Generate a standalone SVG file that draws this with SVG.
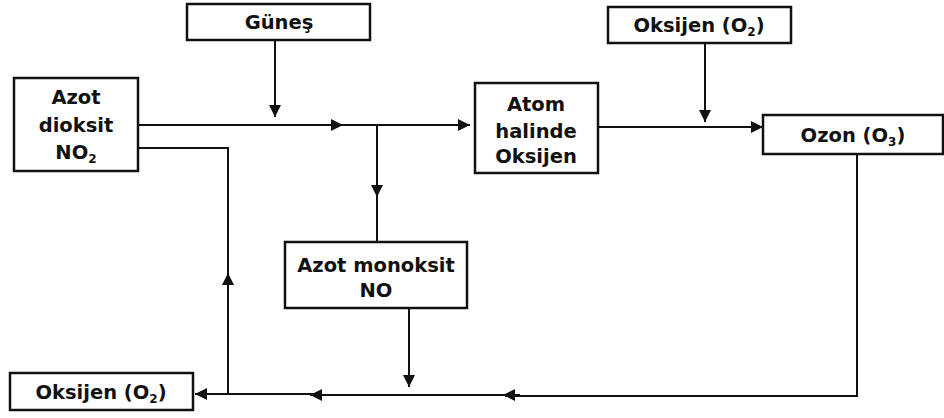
<svg xmlns="http://www.w3.org/2000/svg" width="944" height="418" viewBox="0 0 944 418">
<style>
.box{fill:#fff;stroke:#111;stroke-width:2.5}
.t{font-family:"DejaVu Sans",sans-serif;font-weight:bold;font-size:19.5px;fill:#111;text-anchor:middle}
.sub{font-size:12px}
.ln{fill:none;stroke:#111;stroke-width:2}
</style>
<defs>
<marker id="ah" viewBox="0 0 10 10" refX="10" refY="5" markerWidth="12" markerHeight="12" markerUnits="userSpaceOnUse" orient="auto">
<path d="M0,0 L10,5 L0,10 z" fill="#111"/>
</marker>
</defs>
<rect width="944" height="418" fill="#fff"/>
<g id="connectors">
<path class="ln" d="M275,40 V117" marker-end="url(#ah)"/>
<path class="ln" d="M138,125 H343" marker-end="url(#ah)"/>
<path class="ln" d="M340,125 H470" marker-end="url(#ah)"/>
<path class="ln" d="M377,125 V197" marker-end="url(#ah)"/>
<path class="ln" d="M377,195 V242"/>
<path class="ln" d="M705,43 V122" marker-end="url(#ah)"/>
<path class="ln" d="M598,127 H763" marker-end="url(#ah)"/>
<path class="ln" d="M857,154 V396 H505"/>
<path class="ln" d="M520,395 H503" marker-end="url(#ah)"/>
<path class="ln" d="M505,395 H310" marker-end="url(#ah)"/>
<path class="ln" d="M315,394 H195" marker-end="url(#ah)"/>
<path class="ln" d="M409,308 V387" marker-end="url(#ah)"/>
<path class="ln" d="M228,393 V273" marker-end="url(#ah)"/>
<path class="ln" d="M228,280 V148 H138"/>
</g>
<g id="gunes">
<rect class="box" x="187" y="4" width="183" height="36"/>
<text class="t" x="279" y="29">Güneş</text>
</g>
<g id="azot-dioksit">
<rect class="box" x="14" y="78" width="124" height="93"/>
<text class="t" x="76" y="104">Azot</text>
<text class="t" x="76" y="132">dioksit</text>
<text class="t" x="76" y="159">NO<tspan class="sub" dy="4">2</tspan></text>
</g>
<g id="atom-oksijen">
<rect class="box" x="475" y="83" width="123" height="90"/>
<text class="t" x="536" y="111">Atom</text>
<text class="t" x="536" y="138">halinde</text>
<text class="t" x="536" y="163">Oksijen</text>
</g>
<g id="oksijen-top">
<rect class="box" x="608" y="7" width="183" height="36"/>
<text class="t" x="699" y="32">Oksijen (O<tspan class="sub" dy="4">2</tspan><tspan dy="-4">)</tspan></text>
</g>
<g id="ozon">
<rect class="box" x="763" y="115" width="180" height="39"/>
<text class="t" x="853" y="142">Ozon (O<tspan class="sub" dy="4">3</tspan><tspan dy="-4">)</tspan></text>
</g>
<g id="azot-monoksit">
<rect class="box" x="285" y="242" width="182" height="66"/>
<text class="t" x="376" y="272">Azot monoksit</text>
<text class="t" x="376" y="297">NO</text>
</g>
<g id="oksijen-bottom">
<rect class="box" x="10" y="373" width="183" height="37"/>
<text class="t" x="101" y="399">Oksijen (O<tspan class="sub" dy="4">2</tspan><tspan dy="-4">)</tspan></text>
</g>
</svg>
